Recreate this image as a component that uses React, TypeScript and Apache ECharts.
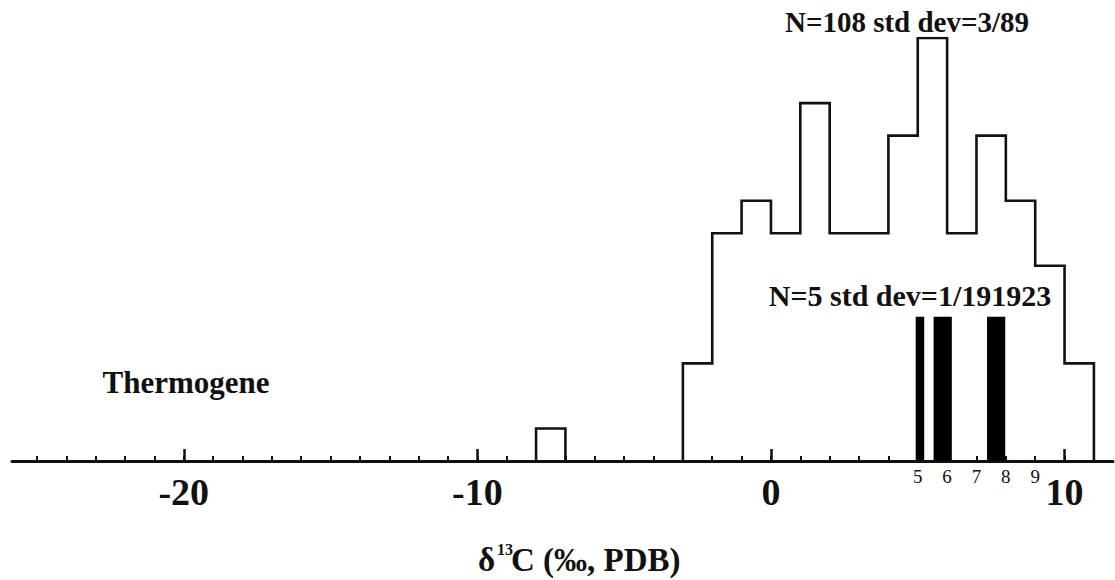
import React, { useEffect, useRef } from "react";
import * as echarts from "echarts";

// ---- data ----
const xMin = -25.85;
const xMax = 11.65;
const minorTickValues: number[] = [
  -25, -24, -23, -22, -21, -20, -19, -18, -17, -16, -15, -14, -13, -12, -11, -10,
  -9, -8, -7, -6, -5, -4, -3, -2, -1, 0, 1, 2, 3, 4, 5, 6, 7, 8, 9, 10, 11,
];
const majorTickValues: number[] = [-20, -10, 0, 10];
const bigLabels: number[] = [-20, -10, 0, 10];
const smallLabels: number[] = [5, 6, 7, 8, 9];

// N=108 histogram (bin width 1 ‰)
const isolatedBinStart = -8;
const isolatedCounts: number[] = [1];
const mainBinStart = -3;
const mainCounts: number[] = [3, 7, 8, 7, 11, 7, 7, 10, 13, 7, 10, 8, 6, 3];

// N=5 sample bars [from, to]
const sampleBarRanges: number[][] = [
  [4.93, 5.22],
  [5.54, 6.16],
  [7.36, 7.98],
];
const sampleBarHeight = 4.43;

const yMax = 13;

function outline(start: number, counts: number[]): number[][] {
  const pts: number[][] = [[start, 0]];
  counts.forEach((c, i) => {
    pts.push([start + i, c]);
    pts.push([start + i + 1, c]);
  });
  pts.push([start + counts.length, 0]);
  return pts;
}

const FONT = "'Liberation Serif', 'Times New Roman', serif";

export default function App() {
  const ref = useRef<HTMLDivElement>(null);
  useEffect(() => {
    if (!ref.current) return;
    const chart = echarts.init(ref.current, undefined, { renderer: "svg" });
    const lineStyle = { color: "#111", width: 2.6, join: "miter" as const };
    chart.setOption({
      animation: false,
      backgroundColor: "#fff",
      grid: { left: 12, right: 2, top: 38, bottom: 119, containLabel: false },
      xAxis: [
        {
          type: "value",
          min: xMin,
          max: xMax,
          position: "bottom",
          axisLine: { show: true, onZero: false, lineStyle: { color: "#111", width: 3 } },
          axisTick: {
            show: true,
            inside: true,
            length: 5,
            customValues: minorTickValues,
            lineStyle: { color: "#111", width: 2 },
          },
          axisLabel: {
            show: true,
            customValues: bigLabels,
            margin: 12,
            fontFamily: FONT,
            fontWeight: "bold",
            fontSize: 38,
            color: "#111",
            formatter: (v: number) => String(v),
          },
          splitLine: { show: false },
        },
        {
          type: "value",
          min: xMin,
          max: xMax,
          position: "bottom",
          offset: 0,
          axisLine: { show: false },
          axisTick: {
            show: true,
            inside: true,
            length: 12,
            customValues: majorTickValues,
            lineStyle: { color: "#111", width: 2.5 },
          },
          axisLabel: {
            show: true,
            customValues: smallLabels,
            margin: 6,
            fontFamily: FONT,
            fontSize: 19,
            color: "#111",
            formatter: (v: number) => String(v),
          },
          splitLine: { show: false },
        },
      ],
      yAxis: { type: "value", min: 0, max: yMax, show: false },
      series: [
        {
          type: "line",
          xAxisIndex: 0,
          data: outline(isolatedBinStart, isolatedCounts),
          symbol: "none",
          lineStyle,
          z: 3,
        },
        {
          type: "line",
          xAxisIndex: 0,
          data: outline(mainBinStart, mainCounts),
          symbol: "none",
          lineStyle,
          z: 3,
        },
        {
          type: "custom",
          xAxisIndex: 0,
          data: sampleBarRanges.map((r) => [r[0], r[1], sampleBarHeight]),
          encode: { x: [0, 1], y: 2 },
          renderItem: (params: any, api: any) => {
            const p0 = api.coord([api.value(0), api.value(2)]);
            const p1 = api.coord([api.value(1), 0]);
            return {
              type: "rect",
              shape: { x: p0[0], y: p0[1], width: p1[0] - p0[0], height: p1[1] - p0[1] },
              style: { fill: "#000" },
            };
          },
          z: 4,
        },
      ],
      graphic: [
        {
          type: "text",
          x: 186,
          y: 382,
          style: {
            text: "Thermogene",
            font: `bold 31px ${FONT}`,
            fill: "#111",
            align: "center",
            verticalAlign: "middle",
          },
        },
        {
          type: "text",
          x: 907,
          y: 22,
          style: {
            text: "N=108 std dev=3/89",
            font: `bold 29px ${FONT}`,
            fill: "#111",
            align: "center",
            verticalAlign: "middle",
          },
        },
        {
          type: "text",
          x: 910,
          y: 295,
          style: {
            text: "N=5 std dev=1/191923",
            font: `bold 30px ${FONT}`,
            fill: "#111",
            align: "center",
            verticalAlign: "middle",
          },
        },
        {
          type: "text",
          x: 478,
          y: 560,
          style: {
            text: "δ",
            font: `bold 33px ${FONT}`,
            fill: "#111",
            align: "left",
            verticalAlign: "middle",
          },
        },
        {
          type: "text",
          x: 497,
          y: 549,
          style: {
            text: "13",
            font: `bold 16px ${FONT}`,
            fill: "#111",
            align: "left",
            verticalAlign: "middle",
          },
        },
        {
          type: "text",
          x: 511,
          y: 560,
          style: {
            text: "C (‰, PDB)",
            font: `bold 33px ${FONT}`,
            fill: "#111",
            align: "left",
            verticalAlign: "middle",
          },
        },
      ],
    });
    return () => chart.dispose();
  }, []);
  return (
    <div
      ref={ref}
      style={{ position: "absolute", left: 0, top: 0, width: 1115, height: 580, background: "#fff" }}
    />
  );
}
